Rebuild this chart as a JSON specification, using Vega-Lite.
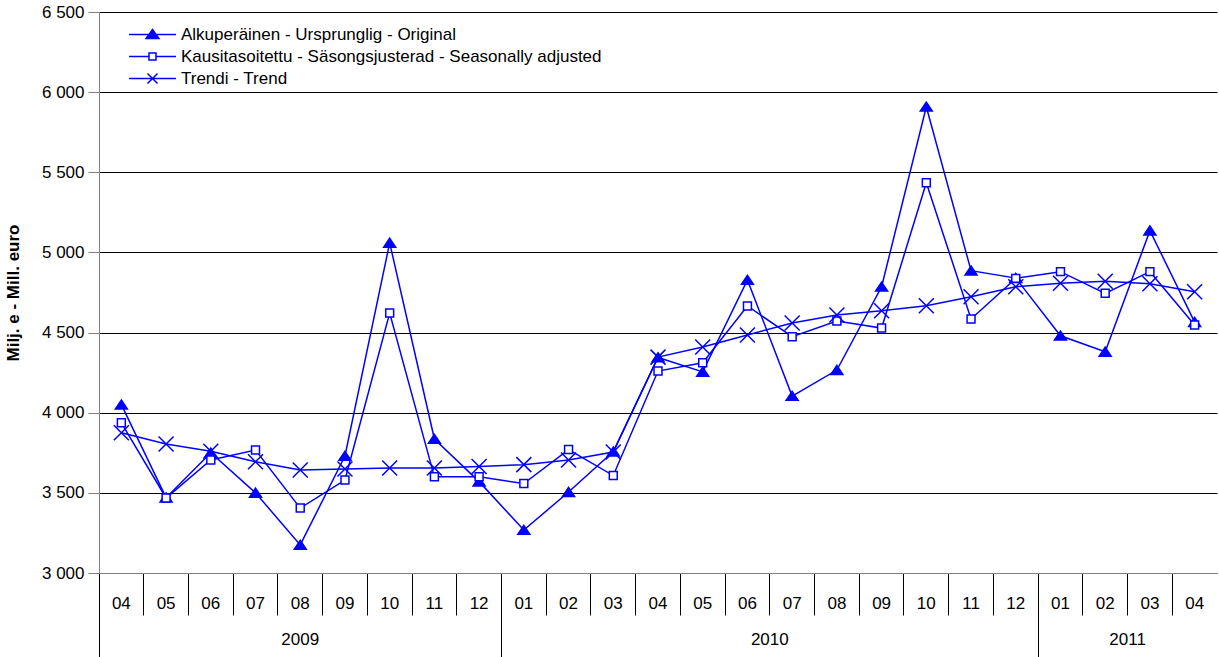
{
  "$schema": "https://vega.github.io/schema/vega-lite/v6.json",
  "width": 1118,
  "height": 561,
  "autosize": {"type": "none"},
  "padding": {"left": 99, "top": 12, "right": 2, "bottom": 84},
  "background": "white",
  "config": {
    "font": "Liberation Sans",
    "view": {"stroke": null},
    "axis": {"labelFont": "Liberation Sans", "titleFont": "Liberation Sans", "labelColor": "#000000", "titleColor": "#000000", "labelFontSize": 17}
  },
  "data": {"values": [
    {"m": "2009-04", "s": "Alkuperäinen - Ursprunglig - Original", "v": 4050},
    {"m": "2009-05", "s": "Alkuperäinen - Ursprunglig - Original", "v": 3470},
    {"m": "2009-06", "s": "Alkuperäinen - Ursprunglig - Original", "v": 3750},
    {"m": "2009-07", "s": "Alkuperäinen - Ursprunglig - Original", "v": 3500},
    {"m": "2009-08", "s": "Alkuperäinen - Ursprunglig - Original", "v": 3175},
    {"m": "2009-09", "s": "Alkuperäinen - Ursprunglig - Original", "v": 3730},
    {"m": "2009-10", "s": "Alkuperäinen - Ursprunglig - Original", "v": 5060},
    {"m": "2009-11", "s": "Alkuperäinen - Ursprunglig - Original", "v": 3836},
    {"m": "2009-12", "s": "Alkuperäinen - Ursprunglig - Original", "v": 3570},
    {"m": "2010-01", "s": "Alkuperäinen - Ursprunglig - Original", "v": 3268},
    {"m": "2010-02", "s": "Alkuperäinen - Ursprunglig - Original", "v": 3505},
    {"m": "2010-03", "s": "Alkuperäinen - Ursprunglig - Original", "v": 3757},
    {"m": "2010-04", "s": "Alkuperäinen - Ursprunglig - Original", "v": 4345},
    {"m": "2010-05", "s": "Alkuperäinen - Ursprunglig - Original", "v": 4255},
    {"m": "2010-06", "s": "Alkuperäinen - Ursprunglig - Original", "v": 4828},
    {"m": "2010-07", "s": "Alkuperäinen - Ursprunglig - Original", "v": 4104},
    {"m": "2010-08", "s": "Alkuperäinen - Ursprunglig - Original", "v": 4266},
    {"m": "2010-09", "s": "Alkuperäinen - Ursprunglig - Original", "v": 4786},
    {"m": "2010-10", "s": "Alkuperäinen - Ursprunglig - Original", "v": 5909},
    {"m": "2010-11", "s": "Alkuperäinen - Ursprunglig - Original", "v": 4886},
    {"m": "2010-12", "s": "Alkuperäinen - Ursprunglig - Original", "v": 4840},
    {"m": "2011-01", "s": "Alkuperäinen - Ursprunglig - Original", "v": 4480},
    {"m": "2011-02", "s": "Alkuperäinen - Ursprunglig - Original", "v": 4380},
    {"m": "2011-03", "s": "Alkuperäinen - Ursprunglig - Original", "v": 5136},
    {"m": "2011-04", "s": "Alkuperäinen - Ursprunglig - Original", "v": 4565},
    {"m": "2009-04", "s": "Kausitasoitettu - Säsongsjusterad - Seasonally adjusted", "v": 3937},
    {"m": "2009-05", "s": "Kausitasoitettu - Säsongsjusterad - Seasonally adjusted", "v": 3468},
    {"m": "2009-06", "s": "Kausitasoitettu - Säsongsjusterad - Seasonally adjusted", "v": 3705},
    {"m": "2009-07", "s": "Kausitasoitettu - Säsongsjusterad - Seasonally adjusted", "v": 3767},
    {"m": "2009-08", "s": "Kausitasoitettu - Säsongsjusterad - Seasonally adjusted", "v": 3405},
    {"m": "2009-09", "s": "Kausitasoitettu - Säsongsjusterad - Seasonally adjusted", "v": 3580},
    {"m": "2009-10", "s": "Kausitasoitettu - Säsongsjusterad - Seasonally adjusted", "v": 4622},
    {"m": "2009-11", "s": "Kausitasoitettu - Säsongsjusterad - Seasonally adjusted", "v": 3600},
    {"m": "2009-12", "s": "Kausitasoitettu - Säsongsjusterad - Seasonally adjusted", "v": 3600},
    {"m": "2010-01", "s": "Kausitasoitettu - Säsongsjusterad - Seasonally adjusted", "v": 3558},
    {"m": "2010-02", "s": "Kausitasoitettu - Säsongsjusterad - Seasonally adjusted", "v": 3770},
    {"m": "2010-03", "s": "Kausitasoitettu - Säsongsjusterad - Seasonally adjusted", "v": 3608},
    {"m": "2010-04", "s": "Kausitasoitettu - Säsongsjusterad - Seasonally adjusted", "v": 4260},
    {"m": "2010-05", "s": "Kausitasoitettu - Säsongsjusterad - Seasonally adjusted", "v": 4312},
    {"m": "2010-06", "s": "Kausitasoitettu - Säsongsjusterad - Seasonally adjusted", "v": 4666},
    {"m": "2010-07", "s": "Kausitasoitettu - Säsongsjusterad - Seasonally adjusted", "v": 4474},
    {"m": "2010-08", "s": "Kausitasoitettu - Säsongsjusterad - Seasonally adjusted", "v": 4572},
    {"m": "2010-09", "s": "Kausitasoitettu - Säsongsjusterad - Seasonally adjusted", "v": 4528},
    {"m": "2010-10", "s": "Kausitasoitettu - Säsongsjusterad - Seasonally adjusted", "v": 5435},
    {"m": "2010-11", "s": "Kausitasoitettu - Säsongsjusterad - Seasonally adjusted", "v": 4585},
    {"m": "2010-12", "s": "Kausitasoitettu - Säsongsjusterad - Seasonally adjusted", "v": 4838},
    {"m": "2011-01", "s": "Kausitasoitettu - Säsongsjusterad - Seasonally adjusted", "v": 4880},
    {"m": "2011-02", "s": "Kausitasoitettu - Säsongsjusterad - Seasonally adjusted", "v": 4745},
    {"m": "2011-03", "s": "Kausitasoitettu - Säsongsjusterad - Seasonally adjusted", "v": 4880},
    {"m": "2011-04", "s": "Kausitasoitettu - Säsongsjusterad - Seasonally adjusted", "v": 4547},
    {"m": "2009-04", "s": "Trendi - Trend", "v": 3875},
    {"m": "2009-05", "s": "Trendi - Trend", "v": 3805},
    {"m": "2009-06", "s": "Trendi - Trend", "v": 3760},
    {"m": "2009-07", "s": "Trendi - Trend", "v": 3694},
    {"m": "2009-08", "s": "Trendi - Trend", "v": 3643},
    {"m": "2009-09", "s": "Trendi - Trend", "v": 3649},
    {"m": "2009-10", "s": "Trendi - Trend", "v": 3655},
    {"m": "2009-11", "s": "Trendi - Trend", "v": 3655},
    {"m": "2009-12", "s": "Trendi - Trend", "v": 3664},
    {"m": "2010-01", "s": "Trendi - Trend", "v": 3676},
    {"m": "2010-02", "s": "Trendi - Trend", "v": 3705},
    {"m": "2010-03", "s": "Trendi - Trend", "v": 3755},
    {"m": "2010-04", "s": "Trendi - Trend", "v": 4347},
    {"m": "2010-05", "s": "Trendi - Trend", "v": 4410},
    {"m": "2010-06", "s": "Trendi - Trend", "v": 4485},
    {"m": "2010-07", "s": "Trendi - Trend", "v": 4560},
    {"m": "2010-08", "s": "Trendi - Trend", "v": 4610},
    {"m": "2010-09", "s": "Trendi - Trend", "v": 4636},
    {"m": "2010-10", "s": "Trendi - Trend", "v": 4667},
    {"m": "2010-11", "s": "Trendi - Trend", "v": 4724},
    {"m": "2010-12", "s": "Trendi - Trend", "v": 4786},
    {"m": "2011-01", "s": "Trendi - Trend", "v": 4808},
    {"m": "2011-02", "s": "Trendi - Trend", "v": 4820},
    {"m": "2011-03", "s": "Trendi - Trend", "v": 4805},
    {"m": "2011-04", "s": "Trendi - Trend", "v": 4755}
  ]},
  "encoding": {
    "y": {
      "field": "v", "type": "quantitative",
      "scale": {"domain": [3000, 6500], "nice": false, "zero": false},
      "axis": {
        "values": [3000, 3500, 4000, 4500, 5000, 5500, 6000, 6500],
        "labelExpr": "replace(format(datum.value, ','), ',', ' ')",
        "grid": true, "gridColor": "#000000", "gridWidth": 1,
        "domainColor": "#808080", "domainWidth": 1,
        "tickColor": "#808080", "tickSize": 11, "labelPadding": 4,
        "title": "Milj. e - Mill. euro", "titleFontSize": 17, "titleFontWeight": "bold", "titlePadding": 19
      }
    }
  },
  "layer": [
    {
      "mark": {"type": "point", "opacity": 0},
      "encoding": {
        "x": {"field": "m", "type": "ordinal", "scale": {"type": "band", "paddingInner": 0, "paddingOuter": 0},
          "axis": {"orient": "bottom", "values": ["2009-04", "2010-01", "2011-01"], "bandPosition": 0, "tickSize": 84, "tickColor": "#000000", "tickWidth": 1, "labels": false, "domain": false, "grid": false, "title": null}}
      }
    },
    {
      "mark": {"type": "point", "opacity": 0},
      "encoding": {
        "x": {"field": "m", "type": "ordinal", "scale": {"type": "band", "paddingInner": 0, "paddingOuter": 0},
          "axis": {"orient": "bottom", "values": ["2009-08", "2010-07", "2011-03"], "labelExpr": "slice(datum.value, 0, 4)", "ticks": false, "domain": false, "grid": false, "title": null,
            "labelAngle": 0, "labelPadding": 58, "labelBaseline": "top", "labelFontSize": 17,
            "labelOffset": {"condition": {"test": "datum.value == '2009-08'", "value": 0}, "value": -22.36}}}
      }
    },
    {
      "mark": {"type": "line", "color": "#0000FF", "strokeWidth": 1.5},
      "encoding": {
        "x": {"field": "m", "type": "ordinal", "scale": {"type": "band", "paddingInner": 0, "paddingOuter": 0},
          "axis": {"orient": "bottom", "labelExpr": "slice(datum.value, 5, 7)", "bandPosition": 0, "tickSize": 42, "tickColor": "#000000", "tickWidth": 1,
            "domainColor": "#808080", "labelAngle": 0, "labelPadding": -20, "labelBaseline": "top", "labelFontSize": 17, "grid": false, "title": null}},
        "detail": {"field": "s"}
      }
    },
    {
      "mark": {"type": "point", "filled": true, "stroke": "#0000FF", "strokeWidth": 1.5, "opacity": 1, "size": 144},
      "encoding": {
        "x": {"field": "m", "type": "ordinal", "scale": {"type": "band", "paddingInner": 0, "paddingOuter": 0}, "axis": null},
        "shape": {
          "field": "s", "type": "nominal",
          "scale": {
            "domain": ["Alkuperäinen - Ursprunglig - Original", "Kausitasoitettu - Säsongsjusterad - Seasonally adjusted", "Trendi - Trend"],
            "range": ["M0,-0.78L1,0.72L-1,0.72Z", "M-0.66,-0.66L0.66,-0.66L0.66,0.66L-0.66,0.66Z", "M-1.25,-1.25L1.25,1.25M-1.25,1.25L1.25,-1.25"]
          },
          "legend": null
        },
        "fill": {
          "field": "s", "type": "nominal",
          "scale": {
            "domain": ["Alkuperäinen - Ursprunglig - Original", "Kausitasoitettu - Säsongsjusterad - Seasonally adjusted", "Trendi - Trend"],
            "range": ["#0000FF", "#FFFFFF", "transparent"]
          },
          "legend": null
        }
      }
    },
    {
      "mark": {"type": "point", "filled": true, "strokeWidth": 1.5, "opacity": 0, "size": 289},
      "encoding": {
        "x": {"field": "m", "type": "ordinal", "scale": {"type": "band", "paddingInner": 0, "paddingOuter": 0}, "axis": null},
        "shape": {
          "field": "s", "type": "nominal",
          "scale": {
            "domain": ["Alkuperäinen - Ursprunglig - Original", "Kausitasoitettu - Säsongsjusterad - Seasonally adjusted", "Trendi - Trend"],
            "range": ["M-2.76,0L2.76,0M0,-0.59L0.76,0.47L-0.76,0.47Z", "M-2.76,0L-0.41,0M0.41,0L2.76,0M-0.41,-0.41L0.41,-0.41L0.41,0.41L-0.41,0.41Z", "M-2.76,0L2.76,0M-0.59,-0.59L0.59,0.59M-0.59,0.59L0.59,-0.59"]
          },
          "legend": {
            "orient": "none", "legendX": 44, "legendY": 13, "title": null, "padding": 0,
            "symbolSize": 289, "symbolStrokeWidth": 1.5, "symbolOpacity": 1,
            "labelFontSize": 17, "labelFont": "Liberation Sans", "labelColor": "#000000", "labelOffset": 19, "rowPadding": 4, "labelLimit": 600
          }
        },
        "fill": {
          "field": "s", "type": "nominal",
          "scale": {
            "domain": ["Alkuperäinen - Ursprunglig - Original", "Kausitasoitettu - Säsongsjusterad - Seasonally adjusted", "Trendi - Trend"],
            "range": ["#0000FF", "#FFFFFF", "transparent"]
          },
          "legend": {
            "orient": "none", "legendX": 44, "legendY": 13, "title": null, "padding": 0,
            "symbolSize": 289, "symbolStrokeWidth": 1.5, "symbolOpacity": 1,
            "labelFontSize": 17, "labelFont": "Liberation Sans", "labelColor": "#000000", "labelOffset": 19, "rowPadding": 4, "labelLimit": 600
          }
        },
        "stroke": {
          "field": "s", "type": "nominal",
          "scale": {
            "domain": ["Alkuperäinen - Ursprunglig - Original", "Kausitasoitettu - Säsongsjusterad - Seasonally adjusted", "Trendi - Trend"],
            "range": ["#0000FF", "#0000FF", "#0000FF"]
          },
          "legend": {
            "orient": "none", "legendX": 44, "legendY": 13, "title": null, "padding": 0,
            "symbolSize": 289, "symbolStrokeWidth": 1.5, "symbolOpacity": 1,
            "labelFontSize": 17, "labelFont": "Liberation Sans", "labelColor": "#000000", "labelOffset": 19, "rowPadding": 4, "labelLimit": 600
          }
        }
      }
    }
  ],
  "resolve": {"axis": {"x": "independent"}, "scale": {"shape": "independent", "fill": "independent", "stroke": "independent"}}
}
